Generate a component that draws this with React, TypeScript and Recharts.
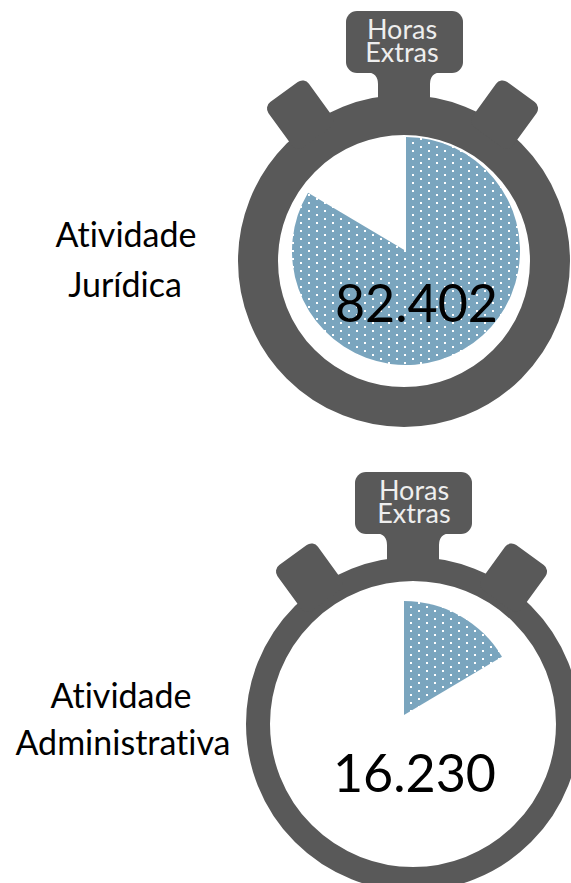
import { PieChart, Pie, Cell } from "recharts"

const hourValues = [82402, 16230]
const secondOrder = [16230, 82402]
const juridicaData = hourValues.map((value) => ({ value }))
const adminData = secondOrder.map((value) => ({ value }))
const juridicaLabels = ["Atividade", "Jurídica"]
const adminLabels = ["Atividade", "Administrativa"]
const juridicaTotal = "82.402"
const adminTotal = "16.230"
const crownLabels = ["Horas", "Extras"]

const CASE = "#595959"
const BLUE = "#7AA5BE"
const FONT = "Lato, sans-serif"

function Stopwatch({ cx, cy, r, inner, crownTop }: { cx: number; cy: number; r: number; inner: number; crownTop: number }) {
  const bot = crownTop + 62
  return (
    <g fill={CASE}>
      <circle cx={cx} cy={cy} r={(r + inner) / 2} fill="none" stroke={CASE} strokeWidth={r - inner} />
      <rect x={cx - 58} y={crownTop} width={117} height={62} rx={11} />
      <path
        d={`M${cx - 37},${bot - 1} Q${cx - 26},${bot} ${cx - 26},${bot + 11} L${cx - 26},${cy - r + 6} L${cx + 26},${cy - r + 6} L${cx + 26},${bot + 11} Q${cx + 26},${bot} ${cx + 37},${bot - 1} Z`}
      />
      <g transform={`translate(${cx - 120},${cy - 169}) rotate(-36)`}>
        <rect x={-25} y={0} width={50} height={56} rx={8} />
      </g>
      <g transform={`translate(${cx + 117},${cy - 169}) rotate(36)`}>
        <rect x={-25} y={0} width={50} height={56} rx={8} />
      </g>
    </g>
  )
}

function Crown({ x, y }: { x: number; y: number }) {
  return (
    <g fill="#EEEEEE" fontFamily={FONT} fontSize={27} textAnchor="middle" style={{ fontVariantLigatures: "none" }}>
      <text x={x} y={y}>{crownLabels[0]}</text>
      <text x={x} y={y + 23}>{crownLabels[1]}</text>
    </g>
  )
}

export default function App() {
  return (
    <div style={{ position: "absolute", left: 0, top: 0, width: 571, height: 883, overflow: "hidden", background: "#fff" }}>
      <svg width={571} height={883} style={{ position: "absolute", left: 0, top: 0 }}>
        <Stopwatch cx={404} cy={261} r={166} inner={126} crownTop={11} />
        <Stopwatch cx={413} cy={724} r={167} inner={143} crownTop={472} />
      </svg>

      <div style={{ position: "absolute", left: 0, top: 0 }}>
        <PieChart width={571} height={883} margin={{ top: 0, right: 0, bottom: 0, left: 0 }}>
          <defs>
            <pattern id="dotsTop" x={412} y={142} width={16} height={8} patternUnits="userSpaceOnUse">
              <rect width={16} height={8} fill={BLUE} />
              <rect x={0} y={0} width={2} height={2} fill="#fff" />
              <rect x={8} y={4} width={2} height={2} fill="#fff" />
            </pattern>
            <pattern id="dotsBottom" x={410} y={606} width={16} height={8} patternUnits="userSpaceOnUse">
              <rect width={16} height={8} fill={BLUE} />
              <rect x={0} y={0} width={2} height={2} fill="#fff" />
              <rect x={8} y={4} width={2} height={2} fill="#fff" />
            </pattern>
          </defs>
          <Pie
            data={juridicaData}
            dataKey="value"
            cx={406}
            cy={251}
            innerRadius={0}
            outerRadius={114}
            startAngle={90}
            endAngle={-270}
            stroke="none"
            isAnimationActive={false}
          >
            <Cell fill="url(#dotsTop)" />
            <Cell fill="none" />
          </Pie>
          <Pie
            data={adminData}
            dataKey="value"
            cx={404}
            cy={715}
            innerRadius={0}
            outerRadius={114}
            startAngle={90}
            endAngle={-270}
            stroke="none"
            isAnimationActive={false}
          >
            <Cell fill="url(#dotsBottom)" />
            <Cell fill="none" />
          </Pie>
        </PieChart>
      </div>

      <svg width={571} height={883} style={{ position: "absolute", left: 0, top: 0 }}>
        <Crown x={402} y={39} />
        <Crown x={414} y={500} />
        <g fontFamily={FONT} fontSize={34} fill="#000" textAnchor="middle" style={{ fontVariantLigatures: "none" }}>
          <text x={126} y={247}>{juridicaLabels[0]}</text>
          <text x={125} y={297}>{juridicaLabels[1]}</text>
          <text x={121} y={708}>{adminLabels[0]}</text>
          <text x={123} y={755}>{adminLabels[1]}</text>
        </g>
        <g fontFamily={FONT} fontSize={52} fill="#000" textAnchor="middle">
          <text x={416.5} y={322}>{juridicaTotal}</text>
          <text x={414.5} y={792}>{adminTotal}</text>
        </g>
      </svg>
    </div>
  )
}
